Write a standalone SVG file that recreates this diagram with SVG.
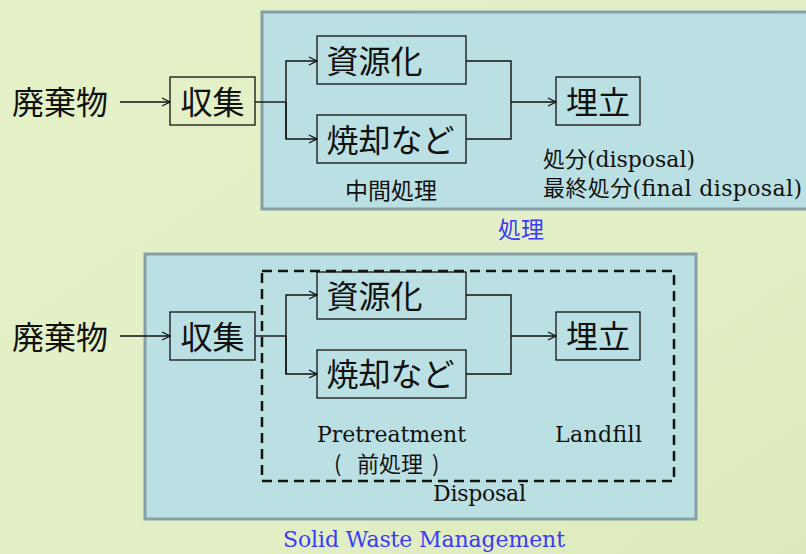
<svg xmlns="http://www.w3.org/2000/svg" width="806" height="554" viewBox="0 0 806 554">
<style>
.jp{font-family:"Noto Sans CJK JP","Noto Sans",sans-serif;fill:#111}
.big{font-size:32px}
.serif{font-family:"DejaVu Serif","Noto Sans CJK JP",serif;fill:#111;font-size:22px}
.blue{fill:#3b3bf5}
.panel{fill:#bbe0e3;stroke:#879fa6;stroke-width:3}
.box{fill:none;stroke:#111;stroke-width:1.3}
.ln{fill:none;stroke:#111;stroke-width:1.4}
.dash{fill:none;stroke:#111;stroke-width:2.5;stroke-dasharray:10 6}
</style>
<defs>
<linearGradient id="bg" x1="0" y1="0" x2="1" y2="1">
<stop offset="0" stop-color="#e4f1c7"/>
<stop offset="0.6" stop-color="#e3efc6"/>
<stop offset="1" stop-color="#dceabb"/>
</linearGradient>
<marker id="ah" markerWidth="10" markerHeight="10" refX="9" refY="5" orient="auto" markerUnits="userSpaceOnUse">
<path d="M1,1 L9,5 L1,9" fill="none" stroke="#111" stroke-width="1.3"/>
</marker>
</defs>
<rect width="806" height="554" fill="url(#bg)"/>

<g id="panel-top">
<rect class="panel" x="262" y="12" width="560" height="197"/>
<text class="jp blue" font-size="23" x="521" y="238" text-anchor="middle">処理</text>
</g>
<g id="panel-bottom">
<rect class="panel" x="145" y="254" width="551" height="265"/>
<rect class="dash" x="262" y="271" width="412" height="210"/>
<text class="serif" x="479.5" y="501" text-anchor="middle" textLength="93">Disposal</text>
<text class="serif blue" x="424" y="547" text-anchor="middle" textLength="282">Solid Waste Management</text>
</g>

<!-- top diagram -->
<g id="t-waste"><text class="jp big" x="12" y="114">廃棄物</text></g>
<g id="t-collect"><rect class="box" x="170" y="77" width="85" height="48"/><text class="jp big" x="212.5" y="114" text-anchor="middle">収集</text></g>
<g id="t-recycle"><rect class="box" x="317" y="36" width="149" height="48"/><text class="jp big" x="374.5" y="73" text-anchor="middle">資源化</text></g>
<g id="t-incin"><rect class="box" x="317" y="115" width="149" height="48"/><text class="jp big" x="390.5" y="152" text-anchor="middle">焼却など</text></g>
<g id="t-landfill"><rect class="box" x="556" y="77" width="84" height="48"/><text class="jp big" x="598" y="114" text-anchor="middle">埋立</text></g>
<g id="t-labels">
<text class="jp" font-size="23" x="391" y="199" text-anchor="middle">中間処理</text>
<text class="serif" x="543" y="167" textLength="152"><tspan class="jp" font-size="22">処分</tspan>(disposal)</text>
<text class="serif" x="543" y="196" textLength="259"><tspan class="jp" font-size="22">最終処分</tspan>(final disposal)</text>
</g>

<g id="t-connectors">
<line class="ln" x1="120" y1="102" x2="170" y2="102" marker-end="url(#ah)"/>
<polyline class="ln" points="255,102 286,102"/>
<polyline class="ln" points="286,139 286,61 317,61" marker-end="url(#ah)"/>
<polyline class="ln" points="286,102 286,139 317,139" marker-end="url(#ah)"/>
<polyline class="ln" points="466,61 511,61 511,139 466,139"/>
<line class="ln" x1="511" y1="102" x2="556" y2="102" marker-end="url(#ah)"/>
</g>

<!-- bottom diagram -->
<g id="b-waste"><text class="jp big" x="12" y="349">廃棄物</text></g>
<g id="b-collect"><rect class="box" x="170" y="312" width="85" height="48"/><text class="jp big" x="212.5" y="349" text-anchor="middle">収集</text></g>
<g id="b-recycle"><rect class="box" x="317" y="272" width="149" height="47"/><text class="jp big" x="374.5" y="308" text-anchor="middle">資源化</text></g>
<g id="b-incin"><rect class="box" x="317" y="350" width="149" height="48"/><text class="jp big" x="390.5" y="386" text-anchor="middle">焼却など</text></g>
<g id="b-landfill"><rect class="box" x="556" y="312" width="84" height="48"/><text class="jp big" x="598" y="348" text-anchor="middle">埋立</text></g>
<g id="b-labels">
<text class="serif" x="391.5" y="442" text-anchor="middle" textLength="149">Pretreatment</text>
<text class="jp" font-size="22" y="472"><tspan x="334">(</tspan><tspan x="357">前処理</tspan><tspan x="432">)</tspan></text>
<text class="serif" x="598.5" y="442" text-anchor="middle" textLength="87">Landfill</text>
</g>

<g id="b-connectors">
<line class="ln" x1="120" y1="336" x2="170" y2="336" marker-end="url(#ah)"/>
<polyline class="ln" points="255,336 286,336"/>
<polyline class="ln" points="286,374 286,295 317,295" marker-end="url(#ah)"/>
<polyline class="ln" points="286,336 286,374 317,374" marker-end="url(#ah)"/>
<polyline class="ln" points="466,295 511,295 511,374 466,374"/>
<line class="ln" x1="511" y1="336" x2="556" y2="336" marker-end="url(#ah)"/>
</g>
</svg>
